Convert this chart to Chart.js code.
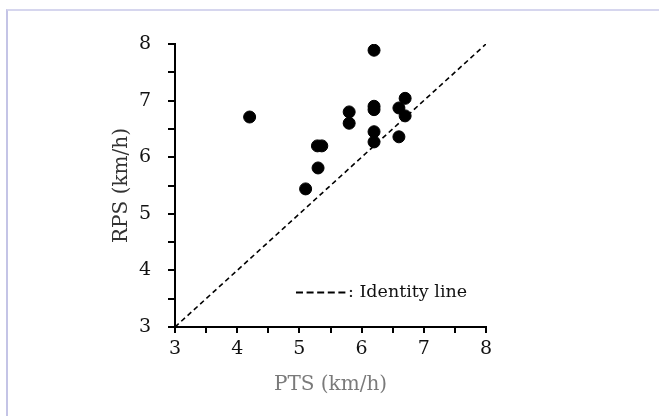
<!DOCTYPE html>
<html>
<head>
<meta charset="utf-8">
<script src="https://cdn.jsdelivr.net/npm/chart.js@4"></script>
<style>
  html, body { margin: 0; padding: 0; background: #fff; overflow: hidden; }
  #wrap { position: relative; width: 659px; height: 416px; overflow: hidden; }
  #frame { position: absolute; left: 6px; top: 9px; width: 900px; height: 700px;
           border-left: 2px solid #c4c4e6; border-top: 2px solid #d6d6ee; }
  canvas { position: absolute; left: 0; top: 0; }
</style>
</head>
<body>
<div id="wrap">
  <div id="frame"></div>
  <canvas id="c" width="659" height="416"></canvas>
</div>
<script>
// PTS (x) and RPS (y), km/h
const ptsValues = [4.20, 6.20, 5.10, 5.30, 5.29, 5.36, 5.80, 5.80, 6.20, 6.20, 6.20, 6.20, 6.60, 6.60, 6.70, 6.70];
const rpsValues = [6.71, 7.89, 5.44, 5.81, 6.20, 6.20, 6.80, 6.60, 6.90, 6.84, 6.45, 6.27, 6.87, 6.36, 7.04, 6.73];
const identityX = [3, 8];
const identityY = [3, 8];
const axisMin = 3;
const axisMax = 8;
const tickStep = 0.5;
const xTitle = 'PTS (km/h)';
const yTitle = 'RPS (km/h)';
const legendText = ': Identity line';

const serif = '"DejaVu Serif", serif';

const points = ptsValues.map((x, i) => ({ x: x, y: rpsValues[i] }));
const identity = identityX.map((x, i) => ({ x: x, y: identityY[i] }));

const legendPlugin = {
  id: 'identityLegend',
  afterDatasetsDraw(chart) {
    const { ctx, scales } = chart;
    const x0 = scales.x.getPixelForValue(4.945);
    const x1 = scales.x.getPixelForValue(5.765);
    const y = scales.y.getPixelForValue(3.61);
    ctx.save();
    ctx.strokeStyle = '#000';
    ctx.lineWidth = 2;
    ctx.setLineDash([7, 3.6]);
    ctx.beginPath();
    ctx.moveTo(x0, y);
    ctx.lineTo(x1, y);
    ctx.stroke();
    ctx.setLineDash([]);
    ctx.fillStyle = '#111';
    ctx.font = '17.5px ' + serif;
    ctx.textBaseline = 'middle';
    ctx.textAlign = 'left';
    ctx.fillText(legendText, x1 + 1, y);
    ctx.restore();
  }
};

const commonTicks = {
  stepSize: tickStep,
  color: '#111',
  font: { family: serif, size: 19 },
  autoSkip: false,
  maxRotation: 0,
  callback: v => (Number.isInteger(v) ? String(v) : '')
};

new Chart(document.getElementById('c'), {
  type: 'scatter',
  data: {
    datasets: [
      {
        type: 'line',
        data: identity,
        borderColor: '#000',
        borderWidth: 1.6,
        borderDash: [5, 3.5],
        pointRadius: 0,
        fill: false,
        order: 2
      },
      {
        data: points,
        backgroundColor: '#000',
        borderColor: '#000',
        pointRadius: 6,
        pointHoverRadius: 6,
        order: 1
      }
    ]
  },
  options: {
    responsive: false,
    animation: false,
    devicePixelRatio: 1,
    layout: { padding: { left: 106, right: 173, top: 44, bottom: 15 } },
    plugins: { legend: { display: false }, tooltip: { enabled: false } },
    scales: {
      x: {
        type: 'linear',
        min: axisMin,
        max: axisMax,
        ticks: Object.assign({}, commonTicks, { padding: 5 }),
        grid: { drawOnChartArea: false, drawTicks: true, tickLength: 6, color: '#000', lineWidth: 2 },
        border: { display: true, color: '#000', width: 2 },
        title: { display: true, text: xTitle, color: '#7a7a7a', font: { family: serif, size: 20 }, padding: { top: 4, bottom: 4 } },
        afterFit(scale) { scale.height = 74; }
      },
      y: {
        type: 'linear',
        min: axisMin,
        max: axisMax,
        ticks: Object.assign({}, commonTicks, { padding: 17 }),
        grid: { drawOnChartArea: false, drawTicks: true, tickLength: 7, color: '#000', lineWidth: 2 },
        border: { display: true, color: '#000', width: 2 },
        title: { display: true, text: yTitle, color: '#333', font: { family: serif, size: 20 }, padding: { top: 4, bottom: 4 } },
        afterFit(scale) { scale.width = 69; }
      }
    }
  },
  plugins: [legendPlugin]
});
</script>
</body>
</html>
